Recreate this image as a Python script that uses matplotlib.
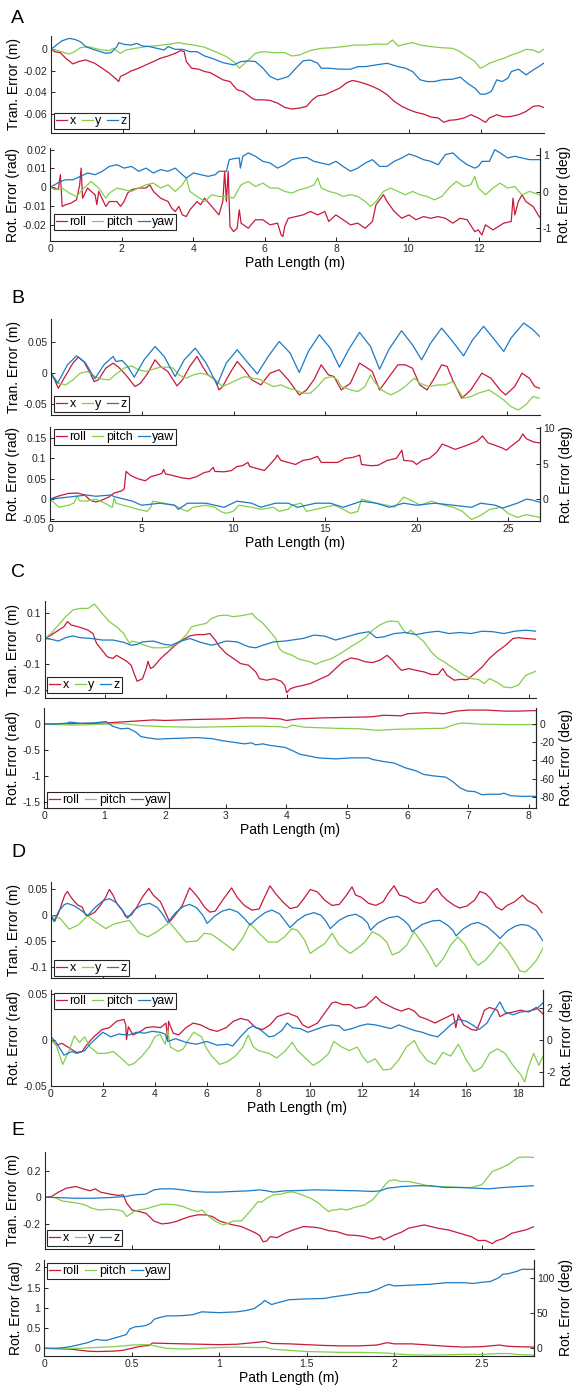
import numpy as np
import matplotlib
matplotlib.use('Agg')
import matplotlib.pyplot as plt
from matplotlib.ticker import FuncFormatter

plt.rcParams['font.family'] = ['Liberation Sans', 'DejaVu Sans']
plt.rcParams['axes.unicode_minus'] = False

RED = '#C8193C'; GREEN = '#84CF4A'; BLUE = '#1B7AC6'; AXC = '#262626'

# ---------------- Data (path length m, value) ----------------
A_TRAN_X = [(0,0),(0.10,-0.0022),(0.26,-0.0031),(0.41,-0.0083),(0.61,-0.0136),(0.77,-0.0114),(0.97,-0.0099),(1.22,-0.0130),(1.43,-0.0176),(1.63,-0.0222),(1.84,-0.0284),(1.89,-0.0300),(1.94,-0.0253),(2.09,-0.0229),(2.24,-0.0201),(2.45,-0.0176),(2.65,-0.0145),(2.86,-0.0114),(3.06,-0.0083),(3.27,-0.0062),(3.47,-0.0037),(3.62,-0.0012),(3.72,-0.0022),(3.78,-0.0114),(3.93,-0.0176),(4.13,-0.0185),(4.29,-0.0207),(4.44,-0.0216),(4.64,-0.0253),(4.80,-0.0284),(5.00,-0.0300),(5.20,-0.0377),(5.36,-0.0392),(5.61,-0.0454),(5.71,-0.0470),(5.92,-0.0470),(6.12,-0.0476),(6.33,-0.0501),(6.53,-0.0541),(6.73,-0.0556),(6.94,-0.0547),(7.14,-0.0531),(7.30,-0.0470),(7.45,-0.0433),(7.65,-0.0423),(7.86,-0.0392),(8.06,-0.0362),(8.27,-0.0309),(8.42,-0.0290),(8.57,-0.0300),(8.78,-0.0321),(8.98,-0.0346),(9.18,-0.0377),(9.39,-0.0423),(9.59,-0.0485),(9.80,-0.0531),(10.00,-0.0562),(10.20,-0.0587),(10.41,-0.0603),(10.61,-0.0630),(10.82,-0.0640),(10.97,-0.0680),(11.12,-0.0661),(11.33,-0.0655),(11.53,-0.0640),(11.73,-0.0609),(11.94,-0.0640),(12.04,-0.0661),(12.14,-0.0680),(12.24,-0.0640),(12.45,-0.0609),(12.65,-0.0630),(12.86,-0.0624),(13.06,-0.0609),(13.27,-0.0578),(13.47,-0.0531),(13.62,-0.0525),(13.76,-0.0541)]
A_TRAN_Y = [(0,0),(0.20,-0.0012),(0.36,-0.0031),(0.51,-0.0043),(0.66,-0.0022),(0.82,0.0015),(1.02,0.0025),(1.22,0.0009),(1.43,-0.0006),(1.63,-0.0012),(1.73,0.0009),(1.94,-0.0037),(2.09,-0.0006),(2.35,0.0009),(2.65,0.0025),(2.96,0.0034),(3.27,0.0046),(3.57,0.0062),(3.78,0.0049),(3.98,0.0040),(4.29,0.0019),(4.59,-0.0022),(4.90,-0.0068),(5.10,-0.0114),(5.26,-0.0176),(5.36,-0.0145),(5.51,-0.0099),(5.71,-0.0037),(5.92,-0.0022),(6.22,-0.0031),(6.53,-0.0031),(6.73,-0.0062),(6.94,-0.0053),(7.24,-0.0012),(7.55,0.0009),(7.86,0.0015),(8.16,0.0025),(8.47,0.0040),(8.78,0.0040),(9.08,0.0049),(9.39,0.0046),(9.54,0.0087),(9.69,0.0031),(9.90,0.0049),(10.10,0.0062),(10.31,0.0040),(10.61,0.0025),(10.92,0.0015),(11.22,0.0009),(11.43,-0.0022),(11.63,-0.0068),(11.84,-0.0114),(11.99,-0.0176),(12.10,-0.0161),(12.24,-0.0130),(12.45,-0.0105),(12.65,-0.0083),(12.86,-0.0053),(13.06,-0.0031),(13.27,0.0000),(13.47,-0.0006),(13.62,-0.0031),(13.76,0.0000)]
A_TRAN_Z = [(0,0),(0.15,0.0040),(0.31,0.0080),(0.51,0.0102),(0.66,0.0093),(0.82,0.0071),(0.97,0.0025),(1.17,0),(1.38,-0.0022),(1.53,-0.0037),(1.68,-0.0031),(1.84,0.0025),(1.89,0.0062),(2.04,0.0046),(2.24,0.0040),(2.40,0.0056),(2.55,0.0031),(2.76,0.0025),(2.96,0.0009),(3.16,-0.0006),(3.27,0.0025),(3.47,0),(3.67,0),(3.88,-0.0022),(4.08,-0.0022),(4.29,-0.0062),(4.49,-0.0083),(4.80,-0.0124),(5.10,-0.0145),(5.31,-0.0114),(5.51,-0.0108),(5.71,-0.0114),(5.92,-0.0176),(6.12,-0.0253),(6.33,-0.0284),(6.48,-0.0269),(6.63,-0.0253),(6.84,-0.0176),(7.04,-0.0108),(7.24,-0.0099),(7.45,-0.0130),(7.55,-0.0176),(7.76,-0.0176),(8.06,-0.0185),(8.37,-0.0185),(8.57,-0.0161),(8.78,-0.0161),(9.08,-0.0145),(9.39,-0.0130),(9.69,-0.0161),(9.90,-0.0176),(10.10,-0.0207),(10.31,-0.0284),(10.51,-0.0300),(10.71,-0.0300),(10.92,-0.0284),(11.22,-0.0278),(11.43,-0.0259),(11.63,-0.0315),(11.84,-0.0362),(11.99,-0.0417),(12.14,-0.0417),(12.30,-0.0392),(12.45,-0.0284),(12.60,-0.0300),(12.76,-0.0269),(12.86,-0.0207),(13.06,-0.0185),(13.27,-0.0238),(13.47,-0.0192),(13.62,-0.0161),(13.76,-0.0130)]

A_ROT_ROLL = [(0,0),(0.13,-0.0005),(0.23,-0.0014),(0.29,0.0066),(0.34,-0.0103),(0.44,-0.0094),(0.59,-0.0085),(0.74,-0.0068),(0.83,0.0012),(0.87,0.0101),(0.91,-0.0059),(1.05,-0.0005),(1.15,-0.0023),(1.26,-0.0041),(1.31,-0.0094),(1.36,-0.0023),(1.56,-0.0103),(1.66,-0.0077),(1.87,-0.0077),(1.97,-0.0103),(2.07,-0.0077),(2.17,-0.0032),(2.28,-0.0014),(2.48,-0.0005),(2.68,-0.0005),(2.79,0.0012),(2.89,-0.0023),(3.09,-0.0059),(3.30,-0.0077),(3.40,-0.0112),(3.50,-0.0130),(3.60,-0.0103),(3.70,-0.0148),(3.81,-0.0157),(3.91,-0.0121),(4.11,-0.0077),(4.21,-0.0094),(4.32,-0.0059),(4.52,-0.0103),(4.72,-0.0148),(4.83,-0.0077),(4.88,0.0084),(4.93,-0.0077),(4.98,0.0084),(5.03,-0.0210),(5.13,-0.0237),(5.23,-0.0219),(5.29,-0.0121),(5.34,-0.0192),(5.54,-0.0219),(5.74,-0.0174),(5.95,-0.0174),(6.15,-0.0201),(6.36,-0.0192),(6.46,-0.0255),(6.51,-0.0263),(6.56,-0.0210),(6.66,-0.0166),(6.87,-0.0157),(7.07,-0.0148),(7.28,-0.0130),(7.48,-0.0148),(7.68,-0.0130),(7.79,-0.0183),(7.99,-0.0148),(8.19,-0.0174),(8.40,-0.0201),(8.60,-0.0192),(8.81,-0.0219),(9.01,-0.0183),(9.11,-0.0094),(9.32,-0.0041),(9.42,-0.0077),(9.62,-0.0130),(9.83,-0.0166),(10.03,-0.0148),(10.23,-0.0174),(10.44,-0.0157),(10.64,-0.0166),(10.85,-0.0157),(11.05,-0.0166),(11.26,-0.0192),(11.46,-0.0166),(11.66,-0.0174),(11.87,-0.0237),(11.97,-0.0228),(12.07,-0.0255),(12.17,-0.0201),(12.38,-0.0228),(12.68,-0.0192),(12.89,-0.0183),(12.94,-0.0059),(12.99,-0.0148),(13.09,-0.0077),(13.19,-0.0041),(13.30,-0.0077),(13.50,-0.0103),(13.68,-0.0160)]
A_ROT_PITCH = [(0,0),(0.13,-0.0014),(0.34,-0.0005),(0.54,-0.0032),(0.74,-0.0050),(0.95,-0.0005),(1.15,0.0030),(1.36,-0.0005),(1.56,-0.0059),(1.66,-0.0032),(1.87,-0.0005),(2.07,-0.0014),(2.28,-0.0023),(2.48,-0.0005),(2.68,0.0012),(2.89,0.0021),(3.09,-0.0005),(3.30,0.0012),(3.50,-0.0023),(3.70,0.0012),(3.81,0.0048),(3.91,-0.0023),(4.11,-0.0050),(4.32,-0.0077),(4.52,-0.0041),(4.72,-0.0050),(4.93,-0.0050),(5.13,-0.0059),(5.34,0.0012),(5.54,0.0030),(5.74,0.0003),(5.95,0.0021),(6.15,-0.0005),(6.36,-0.0005),(6.56,-0.0023),(6.76,-0.0032),(6.97,-0.0014),(7.17,-0.0005),(7.38,0.0012),(7.48,0.0048),(7.58,-0.0005),(7.79,-0.0023),(7.99,-0.0032),(8.19,-0.0050),(8.40,-0.0041),(8.60,-0.0050),(8.81,-0.0077),(8.96,-0.0103),(9.11,-0.0077),(9.32,-0.0023),(9.52,-0.0005),(9.72,-0.0023),(9.93,-0.0041),(10.13,-0.0023),(10.34,-0.0041),(10.54,-0.0050),(10.74,-0.0068),(10.95,-0.0050),(11.15,-0.0005),(11.36,0.0030),(11.56,0.0003),(11.76,0.0012),(11.87,0.0057),(11.97,-0.0005),(12.17,-0.0041),(12.38,-0.0005),(12.58,0.0021),(12.79,-0.0005),(12.99,0.0003),(13.19,-0.0041),(13.40,-0.0023),(13.68,-0.0041)]
A_ROT_YAW = [(0,0),(0.13,0.0012),(0.29,0.0030),(0.44,0.0039),(0.64,0.0039),(0.85,0.0057),(1.05,0.0075),(1.26,0.0066),(1.46,0.0084),(1.66,0.0110),(1.87,0.0119),(2.07,0.0101),(2.28,0.0110),(2.48,0.0084),(2.68,0.0101),(2.89,0.0075),(3.09,0.0093),(3.30,0.0084),(3.50,0.0101),(3.70,0.0066),(3.81,0.0048),(4.01,0.0075),(4.21,0.0066),(4.42,0.0057),(4.62,0.0066),(4.72,0.0084),(4.93,0.0084),(5.01,0.0146),(5.13,0.0151),(5.29,0.0155),(5.32,0.0101),(5.39,0.0164),(5.54,0.0182),(5.74,0.0164),(5.95,0.0137),(6.15,0.0128),(6.36,0.0101),(6.56,0.0119),(6.76,0.0146),(6.97,0.0155),(7.17,0.0158),(7.38,0.0137),(7.58,0.0128),(7.79,0.0119),(7.99,0.0137),(8.19,0.0110),(8.40,0.0084),(8.60,0.0101),(8.81,0.0128),(9.01,0.0146),(9.21,0.0110),(9.42,0.0110),(9.62,0.0137),(9.83,0.0155),(10.03,0.0176),(10.23,0.0164),(10.44,0.0146),(10.64,0.0137),(10.85,0.0119),(11.05,0.0173),(11.26,0.0182),(11.46,0.0146),(11.66,0.0119),(11.87,0.0101),(11.97,0.0110),(12.07,0.0137),(12.28,0.0137),(12.43,0.0199),(12.58,0.0182),(12.79,0.0155),(12.99,0.0164),(13.19,0.0155),(13.40,0.0146),(13.68,0.0146)]

B_TRAN_X = [(0,0),(0.2,-0.0107),(0.4,-0.0241),(1.2,0.0161),(1.5,0.0257),(1.8,0.0187),(2.1,0.0027),(2.36,-0.0134),(2.6,-0.0107),(3.0,0.0080),(3.4,0.0161),(3.7,0.0096),(4.1,-0.0027),(4.6,-0.0214),(4.9,-0.0161),(5.3,0),(5.7,0.0214),(6.0,0.0107),(6.4,0.0027),(6.9,-0.0203),(7.2,-0.0107),(7.6,0.0107),(8.0,0.0268),(8.3,0.0107),(8.6,-0.0027),(9.0,-0.0107),(9.2,-0.0268),(9.4,-0.0214),(9.8,0),(10.2,0.0187),(10.6,0.0054),(11.0,-0.0107),(11.5,-0.0187),(12.0,0),(12.5,0.0054),(13.0,-0.0107),(13.6,-0.0348),(14.0,-0.0268),(14.4,-0.0107),(14.8,0.0134),(15.2,-0.0027),(15.5,-0.0054),(15.9,-0.0268),(16.4,-0.0161),(16.9,0.0161),(17.2,0.0107),(17.6,0.0027),(18.0,-0.0268),(18.4,-0.0107),(19.0,0.0134),(19.4,0.0134),(19.8,0.0080),(20.2,-0.0187),(20.6,-0.0268),(21.0,-0.0080),(21.4,0.0134),(21.7,0.0107),(22.0,-0.0107),(22.5,-0.0401),(23.0,-0.0268),(23.6,0),(24.1,-0.0080),(24.6,-0.0268),(24.9,-0.0348),(25.4,-0.0214),(25.8,0),(26.2,-0.0080),(26.5,-0.0214),(26.76,-0.0241)]
B_TRAN_Y = [(0,0),(0.4,-0.0161),(0.8,-0.0187),(1.2,-0.0107),(1.6,0),(2.0,0.0027),(2.4,-0.0054),(2.8,-0.0096),(3.2,-0.0107),(3.5,-0.0027),(4.0,0.0080),(4.4,0.0118),(4.8,0.0054),(5.2,0.0027),(5.6,0.0064),(6.0,0.0096),(6.4,0.0096),(6.7,0.0080),(7.0,-0.0027),(7.4,-0.0080),(7.8,-0.0027),(8.2,0),(8.6,-0.0027),(9.0,-0.0107),(9.4,-0.0214),(9.8,-0.0161),(10.2,-0.0107),(10.6,-0.0054),(11.0,-0.0080),(11.4,-0.0096),(11.8,-0.0161),(12.2,-0.0214),(12.6,-0.0187),(13.0,-0.0241),(13.4,-0.0268),(13.8,-0.0321),(14.2,-0.0321),(14.6,-0.0214),(15.0,-0.0080),(15.4,-0.0054),(15.7,-0.0107),(15.9,-0.0214),(16.4,-0.0268),(16.8,-0.0294),(17.2,-0.0214),(17.5,-0.0027),(17.7,-0.0134),(18.1,-0.0268),(18.6,-0.0348),(19.0,-0.0294),(19.4,-0.0214),(19.9,-0.0080),(20.2,-0.0161),(20.7,-0.0214),(21.2,-0.0187),(21.6,-0.0187),(22.0,-0.0134),(22.3,-0.0268),(22.6,-0.0401),(23.0,-0.0375),(23.4,-0.0321),(24.0,-0.0268),(24.4,-0.0348),(24.8,-0.0428),(25.2,-0.0535),(25.6,-0.0589),(26.0,-0.0508),(26.4,-0.0375),(26.76,-0.0401)]
B_TRAN_Z = [(0,0),(0.36,-0.016),(0.9,0.0134),(1.4,0.0278),(1.9,0.016),(2.4,-0.0091),(2.9,0.0134),(3.4,0.0268),(3.56,0.0187),(3.9,0.0203),(4.2,0.0107),(4.56,-0.0064),(5.1,0.0214),(5.7,0.0428),(6.2,0.0268),(6.8,-0.0054),(7.3,0.0214),(7.9,0.0401),(8.5,0.0161),(9.1,-0.0187),(9.6,0.0161),(10.2,0.0375),(10.8,0.0161),(11.3,-0.0011),(11.9,0.0268),(12.5,0.0508),(13.1,0.0321),(13.6,0.0011),(14.1,0.0348),(14.7,0.0615),(15.3,0.0401),(15.8,0.0096),(16.3,0.0375),(16.9,0.0653),(17.5,0.0428),(18.0,0.0064),(18.5,0.0375),(19.2,0.0679),(19.8,0.0455),(20.3,0.0214),(20.8,0.0482),(21.4,0.0722),(22.0,0.0508),(22.6,0.0278),(23.1,0.0535),(23.7,0.0749),(24.3,0.0535),(24.8,0.0348),(25.2,0.0562),(25.9,0.0803),(26.4,0.0696),(26.76,0.0589)]

B_ROT_ROLL = [(0,0),(0.5,0.008),(1.0,0.014),(1.5,0.015),(1.9,0.01),(2.2,-0.003),(2.5,-0.007),(2.8,-0.003),(3.2,0.005),(3.5,0.015),(3.9,0.02),(4.05,0.025),(4.15,0.068),(4.4,0.058),(4.8,0.05),(5.2,0.045),(5.5,0.055),(5.9,0.06),(6.1,0.063),(6.2,0.073),(6.3,0.062),(6.7,0.058),(7.2,0.052),(7.6,0.05),(8.0,0.055),(8.4,0.065),(8.7,0.068),(8.9,0.078),(9.0,0.068),(9.5,0.067),(9.9,0.07),(10.2,0.08),(10.5,0.082),(10.8,0.09),(10.9,0.08),(11.3,0.075),(11.7,0.07),(12.0,0.085),(12.3,0.1),(12.4,0.108),(12.6,0.095),(13.0,0.09),(13.4,0.085),(13.8,0.095),(14.2,0.098),(14.6,0.105),(14.8,0.09),(15.3,0.09),(15.7,0.09),(16.1,0.1),(16.5,0.102),(16.9,0.108),(17.0,0.085),(17.5,0.082),(17.9,0.083),(18.4,0.095),(18.9,0.1),(19.2,0.12),(19.3,0.095),(19.8,0.093),(20.0,0.085),(20.3,0.095),(20.7,0.1),(21.1,0.115),(21.4,0.135),(21.8,0.128),(22.1,0.122),(22.5,0.128),(22.9,0.135),(23.3,0.142),(23.6,0.155),(23.9,0.138),(24.3,0.132),(24.7,0.125),(24.9,0.12),(25.3,0.135),(25.6,0.145),(25.8,0.16),(26.0,0.148),(26.4,0.14),(26.75,0.138)]
B_ROT_PITCH = [(0,0),(0.5,-0.02),(1.0,-0.015),(1.3,-0.01),(1.5,0.008),(1.6,-0.004),(2.0,-0.005),(2.5,0.0),(3.0,-0.01),(3.4,-0.02),(3.5,0.003),(3.6,-0.01),(4.0,-0.015),(4.8,-0.025),(5.3,-0.03),(5.5,-0.02),(5.6,-0.005),(6.2,-0.01),(6.8,-0.015),(7.2,-0.025),(7.5,-0.03),(7.8,-0.02),(8.5,-0.015),(9.0,-0.02),(9.3,-0.03),(9.6,-0.035),(10.0,-0.03),(10.3,-0.015),(11.0,-0.02),(11.5,-0.025),(12.2,-0.02),(12.5,-0.03),(13.0,-0.025),(13.2,-0.015),(13.7,-0.01),(14.0,-0.03),(14.5,-0.025),(15.0,-0.02),(15.5,-0.015),(16.0,-0.025),(16.4,-0.035),(16.8,-0.03),(17.0,0.0),(17.8,-0.01),(18.4,-0.015),(18.8,-0.02),(19.3,0.005),(19.8,-0.005),(20.2,-0.015),(20.8,-0.005),(21.5,-0.015),(22.0,-0.02),(22.5,-0.03),(23.0,-0.05),(23.5,-0.04),(24.0,-0.025),(24.6,-0.02),(25.0,-0.035),(25.5,-0.045),(26.0,-0.038),(26.75,-0.045)]
B_ROT_YAW = [(0,0),(1.0,0.005),(2.0,0.01),(2.5,0.007),(3.3,0.01),(3.6,0.005),(4.5,-0.005),(5.0,-0.015),(6.0,-0.01),(6.8,-0.015),(7.0,-0.025),(7.5,-0.01),(8.5,-0.01),(9.5,-0.02),(10.2,-0.005),(11.0,-0.01),(11.5,-0.02),(12.3,-0.01),(13.0,-0.01),(13.5,-0.02),(14.5,-0.01),(15.3,-0.01),(16.0,-0.02),(17.0,-0.005),(17.8,-0.01),(18.5,-0.02),(19.3,-0.01),(20.0,-0.015),(21.0,-0.01),(22.0,-0.015),(23.0,-0.02),(23.5,-0.01),(24.3,-0.015),(24.7,-0.022),(25.5,-0.01),(26.0,0.0),(26.3,-0.002),(26.75,-0.008)]

C_TRAN_X = [(0,0),(0.11,0.013),(0.23,0.032),(0.32,0.045),(0.38,0.065),(0.44,0.052),(0.56,0.045),(0.72,0.032),(0.80,0.019),(0.86,-0.019),(0.95,-0.045),(1.04,-0.071),(1.13,-0.077),(1.19,-0.065),(1.28,-0.077),(1.37,-0.090),(1.43,-0.103),(1.48,-0.135),(1.53,-0.165),(1.62,-0.155),(1.68,-0.116),(1.71,-0.088),(1.75,-0.116),(1.80,-0.110),(1.92,-0.077),(2.04,-0.052),(2.16,-0.026),(2.28,-0.006),(2.40,0.010),(2.52,0.015),(2.64,0.015),(2.73,0.019),(2.82,-0.006),(2.88,-0.028),(3.00,-0.058),(3.12,-0.077),(3.24,-0.097),(3.37,-0.103),(3.49,-0.129),(3.55,-0.155),(3.67,-0.161),(3.79,-0.155),(3.91,-0.165),(3.97,-0.181),(4.00,-0.209),(4.06,-0.194),(4.15,-0.187),(4.27,-0.181),(4.39,-0.174),(4.51,-0.161),(4.69,-0.142),(4.81,-0.116),(4.93,-0.090),(5.06,-0.075),(5.18,-0.080),(5.30,-0.090),(5.42,-0.093),(5.54,-0.084),(5.66,-0.065),(5.75,-0.084),(5.84,-0.110),(5.90,-0.123),(6.02,-0.116),(6.14,-0.123),(6.27,-0.129),(6.39,-0.139),(6.50,-0.139),(6.58,-0.116),(6.65,-0.142),(6.77,-0.161),(6.86,-0.158),(6.99,-0.158),(7.11,-0.135),(7.23,-0.110),(7.35,-0.077),(7.47,-0.052),(7.62,-0.026),(7.74,0),(7.83,0.003),(7.95,0),(8.12,-0.003)]
C_TRAN_Y = [(0,0),(0.11,0.019),(0.23,0.052),(0.35,0.084),(0.47,0.110),(0.59,0.116),(0.72,0.116),(0.80,0.129),(0.83,0.132),(0.95,0.097),(1.07,0.065),(1.19,0.045),(1.31,0.019),(1.37,-0.006),(1.41,-0.019),(1.44,-0.010),(1.53,-0.015),(1.65,-0.026),(1.80,-0.036),(1.95,-0.036),(2.10,-0.032),(2.22,-0.013),(2.34,0.013),(2.43,0.045),(2.55,0.052),(2.67,0.058),(2.76,0.077),(2.88,0.088),(3.00,0.090),(3.12,0.084),(3.25,0.088),(3.37,0.093),(3.43,0.097),(3.49,0.080),(3.61,0.058),(3.73,0.026),(3.82,0),(3.88,-0.039),(3.94,-0.052),(4.09,-0.065),(4.21,-0.080),(4.39,-0.090),(4.48,-0.100),(4.57,-0.090),(4.75,-0.077),(4.93,-0.052),(5.06,-0.032),(5.18,-0.015),(5.30,0.003),(5.42,0.032),(5.54,0.052),(5.66,0.065),(5.75,0.067),(5.84,0.065),(5.93,0.032),(5.99,0.019),(6.05,0.032),(6.14,0.013),(6.27,-0.013),(6.39,-0.052),(6.50,-0.077),(6.59,-0.088),(6.68,-0.103),(6.81,-0.123),(6.93,-0.142),(7.05,-0.155),(7.17,-0.158),(7.26,-0.174),(7.35,-0.155),(7.47,-0.168),(7.59,-0.187),(7.71,-0.190),(7.83,-0.180),(7.95,-0.142),(8.12,-0.126)]
C_TRAN_Z = [(0,0),(0.11,-0.003),(0.23,-0.010),(0.35,0.003),(0.47,0.010),(0.59,0.003),(0.77,0),(0.95,-0.006),(1.13,-0.006),(1.31,-0.015),(1.43,-0.026),(1.53,-0.023),(1.62,-0.013),(1.80,-0.010),(1.98,-0.023),(2.10,-0.026),(2.22,-0.013),(2.40,0),(2.58,-0.015),(2.76,-0.026),(2.88,-0.019),(3.00,-0.010),(3.18,-0.013),(3.37,-0.032),(3.49,-0.036),(3.61,-0.026),(3.79,-0.013),(3.97,-0.010),(4.09,-0.006),(4.27,0),(4.45,0.013),(4.63,0.009),(4.81,-0.006),(4.99,0.006),(5.18,0.019),(5.36,0.026),(5.48,0.003),(5.60,0.006),(5.78,0.019),(5.96,0.023),(6.14,0.015),(6.32,0.023),(6.50,0.028),(6.68,0.019),(6.86,0.023),(7.05,0.019),(7.23,0.028),(7.41,0.026),(7.59,0.019),(7.77,0.028),(7.95,0.032),(8.12,0.028)]

C_ROT_ROLL = [(0,0),(0.5,0.01),(1.0,0.02),(1.4,0.05),(1.8,0.08),(2.0,0.07),(2.5,0.09),(3.0,0.1),(3.3,0.12),(3.6,0.12),(3.9,0.1),(4.0,0.07),(4.2,0.1),(4.6,0.12),(5.0,0.13),(5.4,0.14),(5.6,0.17),(5.9,0.16),(6.0,0.2),(6.3,0.22),(6.6,0.2),(6.8,0.25),(7.0,0.27),(7.3,0.27),(7.6,0.25),(7.8,0.25),(8.12,0.26)]
C_ROT_PITCH = [(0,0),(0.5,-0.02),(1.0,0.0),(1.3,0.01),(1.6,-0.03),(2.0,-0.05),(2.5,-0.06),(3.0,-0.05),(3.5,-0.04),(3.9,-0.05),(4.0,-0.07),(4.1,-0.02),(4.3,-0.06),(4.8,-0.08),(5.2,-0.09),(5.5,-0.12),(5.8,-0.1),(6.2,-0.09),(6.6,-0.08),(6.8,0.0),(6.9,0.02),(7.2,0.0),(7.6,-0.01),(8.12,-0.01)]
C_ROT_YAW = [(0,0),(0.18,0),(0.39,0.02),(0.42,0.04),(0.6,0.015),(0.8,0.02),(1.02,0.05),(1.14,-0.045),(1.27,-0.09),(1.39,-0.08),(1.51,-0.15),(1.6,-0.24),(1.69,-0.26),(1.87,-0.29),(2.05,-0.28),(2.29,-0.27),(2.53,-0.26),(2.77,-0.28),(2.95,-0.32),(3.13,-0.35),(3.31,-0.38),(3.43,-0.36),(3.49,-0.40),(3.61,-0.38),(3.73,-0.41),(3.98,-0.45),(4.1,-0.51),(4.22,-0.58),(4.4,-0.62),(4.52,-0.65),(4.82,-0.67),(5.06,-0.65),(5.36,-0.65),(5.42,-0.68),(5.6,-0.72),(5.78,-0.75),(5.96,-0.84),(6.14,-0.90),(6.27,-0.97),(6.45,-1.0),(6.63,-1.02),(6.75,-1.11),(6.87,-1.23),(6.99,-1.29),(7.11,-1.30),(7.23,-1.36),(7.35,-1.35),(7.53,-1.35),(7.59,-1.33),(7.71,-1.38),(7.89,-1.39),(8.12,-1.39)]

D_TRAN_X = [(0,0),(0.14,-0.012),(0.28,0.003),(0.42,0.023),(0.53,0.039),(0.63,0.046),(0.77,0.035),(0.91,0.026),(1.05,0.019),(1.2,0.016),(1.34,0),(1.48,0),(1.69,0.006),(1.9,0.019),(2.11,0.035),(2.25,0.050),(2.39,0.039),(2.53,0.023),(2.74,0.010),(2.88,-0.003),(3.09,0),(3.31,0.016),(3.52,0.035),(3.77,0.052),(3.94,0.039),(4.22,0.026),(4.43,0.003),(4.57,-0.013),(4.78,0),(5.06,0.019),(5.34,0.053),(5.49,0.045),(5.7,0.032),(5.91,0.016),(6.12,0.006),(6.33,0.008),(6.61,0.029),(6.96,0.053),(7.17,0.035),(7.45,0.019),(7.74,0.010),(8.02,0.012),(8.23,0.035),(8.44,0.057),(8.65,0.042),(8.93,0.026),(9.21,0.013),(9.49,0.016),(9.7,0.029),(9.99,0.050),(10.27,0.045),(10.55,0.029),(10.83,0.019),(11.11,0.021),(11.39,0.039),(11.6,0.055),(11.74,0.039),(11.95,0.035),(12.24,0.023),(12.52,0.019),(12.8,0.026),(12.99,0.042),(13.22,0.057),(13.43,0.039),(13.71,0.035),(13.99,0.026),(14.21,0.023),(14.42,0.026),(14.7,0.045),(14.88,0.052),(15.05,0.039),(15.26,0.029),(15.54,0.019),(15.75,0.014),(16.03,0.018),(16.32,0.029),(16.53,0.046),(16.74,0.042),(16.95,0.032),(17.16,0.016),(17.37,0.010),(17.58,0.019),(17.86,0.026),(18.17,0.039),(18.35,0.029),(18.57,0.023),(18.71,0.019),(18.92,0.005)]
D_TRAN_Y = [(0,0),(0.35,-0.006),(0.7,-0.027),(1.05,-0.019),(1.41,-0.001),(1.76,-0.014),(2.11,-0.026),(2.39,-0.018),(2.67,-0.014),(3.02,-0.010),(3.38,-0.034),(3.73,-0.042),(4.08,-0.032),(4.57,-0.014),(4.92,-0.035),(5.2,-0.052),(5.63,-0.050),(5.91,-0.035),(6.19,-0.037),(6.61,-0.052),(7.03,-0.068),(7.38,-0.045),(7.67,-0.016),(8.02,-0.035),(8.37,-0.052),(8.72,-0.052),(9.0,-0.042),(9.28,-0.026),(9.49,-0.029),(9.77,-0.048),(9.99,-0.074),(10.27,-0.064),(10.55,-0.055),(10.83,-0.035),(11.11,-0.058),(11.53,-0.074),(11.81,-0.064),(12.1,-0.052),(12.38,-0.032),(12.66,-0.039),(12.94,-0.052),(13.15,-0.077),(13.43,-0.071),(13.71,-0.058),(13.99,-0.032),(14.28,-0.052),(14.56,-0.074),(14.84,-0.100),(15.12,-0.084),(15.4,-0.058),(15.68,-0.042),(15.96,-0.058),(16.24,-0.084),(16.46,-0.097),(16.74,-0.087),(17.02,-0.071),(17.3,-0.052),(17.58,-0.068),(17.86,-0.090),(18.07,-0.108),(18.28,-0.110),(18.49,-0.100),(18.71,-0.087),(18.96,-0.064)]
D_TRAN_Z = [(0,0),(0.11,-0.012),(0.3,0.008),(0.5,0.02),(0.63,0.023),(0.9,0.018),(1.2,0.008),(1.41,-0.001),(1.7,0.015),(2.0,0.028),(2.25,0.032),(2.5,0.025),(2.75,0.01),(2.95,-0.006),(3.2,0.01),(3.5,0.02),(3.8,0.023),(4.1,0.015),(4.3,0.002),(4.5,-0.014),(4.8,0.005),(5.1,0.017),(5.34,0.021),(5.6,0.015),(5.85,0.0),(6.02,-0.016),(6.3,-0.002),(6.6,0.008),(6.89,0.012),(7.2,0.006),(7.45,-0.006),(7.67,-0.019),(7.95,-0.006),(8.25,0.005),(8.51,0.010),(8.8,0.003),(9.0,-0.01),(9.21,-0.024),(9.5,-0.01),(9.8,0.0),(10.13,0.005),(10.4,0.0),(10.6,-0.012),(10.76,-0.026),(11.1,-0.01),(11.4,-0.002),(11.74,0.002),(12.0,-0.005),(12.2,-0.015),(12.31,-0.029),(12.6,-0.015),(13.0,-0.005),(13.36,-0.002),(13.6,-0.01),(13.8,-0.02),(13.92,-0.032),(14.3,-0.018),(14.7,-0.011),(14.98,-0.010),(15.3,-0.02),(15.5,-0.03),(15.61,-0.040),(15.9,-0.026),(16.2,-0.017),(16.46,-0.014),(16.8,-0.022),(17.1,-0.035),(17.3,-0.045),(17.6,-0.03),(17.9,-0.021),(18.14,-0.018),(18.4,-0.02),(18.7,-0.03),(18.96,-0.050)]

D_ROT_ROLL = [(0,0),(0.21,-0.006),(0.42,-0.004),(0.7,-0.009),(0.98,-0.014),(1.2,-0.013),(1.34,-0.007),(1.55,0),(1.69,0.004),(1.97,0.011),(2.25,0.013),(2.53,0.020),(2.81,0.022),(2.88,0.016),(2.91,0.0),(2.98,0.014),(3.16,0.005),(3.45,0.009),(3.66,0.013),(3.94,0.014),(4.22,0.013),(4.43,0.018),(4.5,0.0),(4.53,0.020),(4.71,0.007),(4.92,0.005),(5.2,0.013),(5.48,0.018),(5.77,0.016),(6.12,0.011),(6.4,0.009),(6.75,0.013),(7.03,0.020),(7.31,0.023),(7.6,0.021),(7.88,0.013),(8.16,0.011),(8.44,0.016),(8.72,0.025),(9.14,0.029),(9.28,0.027),(9.49,0.025),(9.7,0.016),(9.92,0.013),(10.27,0.018),(10.55,0.029),(10.83,0.040),(10.97,0.041),(11.25,0.038),(11.53,0.038),(11.74,0.034),(12.1,0.036),(12.38,0.043),(12.52,0.047),(12.73,0.041),(12.94,0.038),(13.22,0.034),(13.5,0.031),(13.78,0.034),(14.0,0.031),(14.2,0.025),(14.5,0.022),(14.8,0.018),(15.0,0.021),(15.3,0.025),(15.5,0.028),(15.6,0.013),(15.7,0.027),(15.9,0.016),(16.2,0.011),(16.4,0.010),(16.55,0.020),(16.7,0.032),(16.9,0.035),(17.2,0.032),(17.3,0.025),(17.5,0.028),(17.8,0.030),(18.1,0.032),(18.4,0.030),(18.7,0.035),(18.96,0.028)]
D_ROT_PITCH = [(0,0),(0.2,-0.006),(0.45,-0.027),(0.7,-0.012),(0.9,0.004),(1.1,-0.003),(1.3,0.003),(1.5,-0.008),(1.8,-0.015),(2.1,-0.015),(2.4,-0.013),(2.7,-0.02),(3.0,-0.028),(3.2,-0.026),(3.5,-0.018),(3.8,-0.008),(4.0,0.003),(4.2,0.006),(4.4,-0.005),(4.5,0.01),(4.6,-0.008),(4.9,-0.013),(5.1,-0.010),(5.3,0.0),(5.5,0.008),(5.8,0.003),(6.0,-0.01),(6.2,-0.018),(6.5,-0.027),(6.8,-0.024),(7.1,-0.018),(7.4,-0.008),(7.6,0.005),(7.8,-0.008),(8.0,-0.012),(8.4,-0.015),(8.7,-0.02),(9.0,-0.013),(9.3,-0.003),(9.5,-0.012),(9.8,-0.02),(10.1,-0.028),(10.4,-0.023),(10.7,-0.015),(10.9,-0.002),(11.2,-0.008),(11.5,-0.012),(11.8,-0.008),(12.0,-0.018),(12.2,-0.025),(12.5,-0.021),(12.8,-0.033),(13.1,-0.032),(13.4,-0.022),(13.7,-0.008),(14.0,-0.001),(14.2,-0.012),(14.5,-0.023),(14.8,-0.027),(15.1,-0.014),(15.4,-0.018),(15.7,-0.005),(16.0,-0.022),(16.3,-0.035),(16.6,-0.03),(16.9,-0.015),(17.2,-0.01),(17.5,-0.015),(17.8,-0.028),(18.1,-0.038),(18.25,-0.046),(18.4,-0.03),(18.6,-0.015),(18.8,-0.028),(18.96,-0.018)]
D_ROT_YAW = [(0,0.003),(0.2,-0.003),(0.5,-0.017),(0.8,-0.013),(1.0,-0.015),(1.3,-0.012),(1.5,-0.005),(1.8,0.003),(2.0,0.008),(2.3,0.003),(2.6,0.006),(3.0,0.005),(3.3,0.008),(3.6,0.007),(3.9,0.009),(4.2,0.008),(4.4,0.006),(4.5,-0.002),(4.8,0.001),(5.2,-0.003),(5.6,-0.005),(6.0,-0.002),(6.4,-0.006),(6.8,-0.005),(7.0,-0.007),(7.3,0.003),(7.6,0.012),(7.8,0.015),(8.1,0.010),(8.4,0.003),(8.6,0.004),(8.9,0.010),(9.1,0.018),(9.3,0.013),(9.6,0.012),(9.9,0.008),(10.2,0.011),(10.5,0.014),(10.8,0.016),(11.1,0.015),(11.3,0.010),(11.6,0.012),(11.9,0.015),(12.2,0.017),(12.5,0.016),(12.8,0.014),(13.1,0.012),(13.4,0.016),(13.7,0.013),(14.0,0.010),(14.3,0.008),(14.6,0.005),(14.9,0.003),(15.1,0.008),(15.4,0.016),(15.7,0.022),(16.0,0.020),(16.3,0.015),(16.5,0.011),(16.8,0.018),(17.0,0.028),(17.3,0.041),(17.5,0.030),(17.8,0.027),(18.1,0.030),(18.4,0.031),(18.7,0.033),(18.96,0.040)]

E_TRAN_X = [(0,0),(0.04,0.005),(0.08,0.038),(0.125,0.068),(0.18,0.080),(0.22,0.063),(0.26,0.048),(0.29,0.063),(0.32,0.038),(0.375,0.023),(0.42,0.013),(0.45,0.018),(0.47,-0.045),(0.5,-0.096),(0.54,-0.108),(0.58,-0.121),(0.625,-0.179),(0.67,-0.201),(0.71,-0.196),(0.75,-0.184),(0.79,-0.164),(0.83,-0.146),(0.875,-0.133),(0.92,-0.133),(0.96,-0.146),(1.0,-0.179),(1.04,-0.196),(1.08,-0.209),(1.125,-0.221),(1.17,-0.247),(1.21,-0.272),(1.23,-0.289),(1.25,-0.335),(1.27,-0.330),(1.29,-0.297),(1.33,-0.304),(1.375,-0.272),(1.42,-0.247),(1.48,-0.221),(1.54,-0.226),(1.58,-0.234),(1.625,-0.252),(1.67,-0.259),(1.73,-0.284),(1.79,-0.289),(1.83,-0.297),(1.875,-0.315),(1.92,-0.297),(1.94,-0.322),(1.96,-0.309),(2.0,-0.284),(2.04,-0.264),(2.08,-0.234),(2.125,-0.221),(2.17,-0.209),(2.21,-0.221),(2.25,-0.234),(2.31,-0.247),(2.375,-0.272),(2.44,-0.297),(2.48,-0.327),(2.52,-0.325),(2.56,-0.350),(2.58,-0.330),(2.625,-0.310),(2.67,-0.272),(2.71,-0.259),(2.75,-0.247),(2.8,-0.221)]
E_TRAN_Y = [(0,0),(0.06,-0.003),(0.1,-0.028),(0.15,-0.038),(0.19,-0.045),(0.23,-0.058),(0.27,-0.083),(0.31,-0.096),(0.375,-0.091),(0.42,-0.096),(0.45,-0.108),(0.47,-0.146),(0.49,-0.128),(0.51,-0.108),(0.54,-0.096),(0.58,-0.088),(0.625,-0.070),(0.67,-0.053),(0.71,-0.053),(0.75,-0.058),(0.79,-0.070),(0.83,-0.091),(0.875,-0.108),(0.9,-0.096),(0.94,-0.146),(0.98,-0.184),(1.02,-0.209),(1.05,-0.196),(1.08,-0.179),(1.125,-0.179),(1.16,-0.128),(1.19,-0.083),(1.22,-0.033),(1.24,-0.038),(1.27,-0.008),(1.31,0.018),(1.35,0.023),(1.385,0.035),(1.417,0.040),(1.46,0.023),(1.52,-0.008),(1.56,-0.038),(1.6,-0.083),(1.625,-0.108),(1.646,-0.096),(1.667,-0.096),(1.69,-0.088),(1.73,-0.096),(1.77,-0.078),(1.83,-0.058),(1.875,-0.020),(1.92,0.048),(1.95,0.098),(1.97,0.123),(2.0,0.131),(2.04,0.118),(2.08,0.118),(2.125,0.106),(2.17,0.093),(2.21,0.080),(2.25,0.080),(2.31,0.078),(2.375,0.073),(2.44,0.073),(2.48,0.088),(2.5,0.093),(2.53,0.143),(2.56,0.194),(2.6,0.214),(2.65,0.244),(2.69,0.282),(2.71,0.299),(2.75,0.302),(2.8,0.299)]
E_TRAN_Z = [(0,0),(0.08,-0.003),(0.17,-0.008),(0.27,-0.008),(0.375,-0.003),(0.46,0.005),(0.52,0.018),(0.58,0.023),(0.6,0.038),(0.625,0.055),(0.67,0.063),(0.73,0.063),(0.79,0.055),(0.85,0.043),(0.92,0.038),(1.0,0.038),(1.08,0.043),(1.17,0.048),(1.23,0.055),(1.27,0.048),(1.31,0.038),(1.375,0.048),(1.46,0.050),(1.54,0.055),(1.625,0.053),(1.71,0.050),(1.79,0.048),(1.875,0.043),(1.92,0.048),(1.96,0.068),(2.0,0.073),(2.04,0.080),(2.125,0.086),(2.21,0.086),(2.29,0.073),(2.375,0.073),(2.46,0.068),(2.54,0.063),(2.625,0.073),(2.71,0.080),(2.8,0.086)]

E_ROT_ROLL = [(0,0),(0.15,-0.02),(0.25,-0.07),(0.3,-0.08),(0.4,-0.07),(0.45,-0.05),(0.5,0.0),(0.55,0.05),(0.6,0.07),(0.62,0.13),(0.7,0.12),(0.8,0.11),(0.9,0.1),(1.0,0.09),(1.1,0.1),(1.2,0.14),(1.26,0.17),(1.3,0.12),(1.4,0.11),(1.5,0.09),(1.6,0.07),(1.7,0.06),(1.8,0.06),(1.9,0.08),(1.96,0.14),(2.0,0.11),(2.1,0.11),(2.2,0.08),(2.3,0.05),(2.4,0.03),(2.5,0.04),(2.6,0.08),(2.65,0.05),(2.7,0.04),(2.8,0.03)]
E_ROT_PITCH = [(0,0),(0.1,-0.01),(0.2,0.0),(0.3,0.02),(0.4,0.04),(0.5,0.08),(0.55,0.09),(0.6,0.09),(0.63,0.06),(0.7,0.0),(0.8,-0.02),(0.9,0.0),(1.0,0.02),(1.1,0.03),(1.2,0.02),(1.27,0.02),(1.3,-0.02),(1.4,-0.05),(1.5,-0.08),(1.6,-0.09),(1.7,-0.1),(1.8,-0.1),(1.9,-0.11),(1.97,-0.12),(2.0,-0.14),(2.1,-0.16),(2.2,-0.17),(2.3,-0.16),(2.4,-0.15),(2.5,-0.15),(2.6,-0.13),(2.65,-0.13),(2.7,-0.15),(2.8,-0.17)]
E_ROT_YAW = [(0,0),(0.05,0.0),(0.1,0.01),(0.15,0.04),(0.2,0.09),(0.25,0.14),(0.3,0.22),(0.33,0.2),(0.36,0.2),(0.4,0.25),(0.44,0.3),(0.47,0.34),(0.49,0.48),(0.52,0.53),(0.55,0.54),(0.58,0.56),(0.61,0.62),(0.63,0.72),(0.66,0.76),(0.7,0.8),(0.75,0.8),(0.8,0.81),(0.85,0.83),(0.9,0.9),(0.95,0.89),(1.0,0.88),(1.05,0.89),(1.1,0.9),(1.15,0.93),(1.2,0.98),(1.24,1.1),(1.26,1.18),(1.3,1.08),(1.33,1.12),(1.4,1.2),(1.5,1.22),(1.6,1.23),(1.65,1.27),(1.7,1.3),(1.75,1.33),(1.8,1.37),(1.85,1.38),(1.9,1.45),(1.95,1.55),(1.97,1.58),(2.0,1.54),(2.1,1.56),(2.2,1.58),(2.3,1.62),(2.4,1.62),(2.45,1.6),(2.5,1.63),(2.55,1.65),(2.6,1.75),(2.62,1.83),(2.65,1.84),(2.7,1.9),(2.73,1.95),(2.8,1.95)]

TRAN_LABELS = ['x', 'y', 'z']
ROT_LABELS = ['roll', 'pitch', 'yaw']
PANEL_LETTERS = ['A', 'B', 'C', 'D', 'E']

# ---------------- Figure ----------------
W, H = 572, 1390
fig = plt.figure(figsize=(W / 100, H / 100), dpi=100)

def add_ax(l, r, t, b):
    return fig.add_axes([l / W, 1 - b / H, (r - l) / W, (b - t) / H])

fmt = FuncFormatter(lambda v, p: '%g' % (round(v, 6) if abs(v) > 1e-12 else 0))

def style(ax, right=False):
    for s in ['top']:
        ax.spines[s].set_visible(False)
    ax.spines['right'].set_visible(right)
    for s in ['left', 'bottom', 'right']:
        ax.spines[s].set_color(AXC)
        ax.spines[s].set_linewidth(0.8)
    ax.tick_params(direction='in', length=3, width=0.7, colors=AXC, labelsize=7.5, pad=2.5)
    ax.yaxis.set_major_formatter(fmt)
    ax.xaxis.set_major_formatter(fmt)
    ax.patch.set_alpha(0)

def plot_series(ax, series, labels):
    for data, c, lab in zip(series, [RED, GREEN, BLUE], labels):
        s = [p[0] for p in data]
        v = [p[1] for p in data]
        ax.plot(s, v, color=c, lw=0.9, label=lab, solid_joinstyle='round')

def legend(ax, x, y, loc):
    lg = ax.legend(loc=loc, bbox_to_anchor=(x / W, 1 - y / H), bbox_transform=fig.transFigure,
                   ncol=3, fontsize=9, handlelength=0.9, handletextpad=0.2, columnspacing=0.45,
                   borderpad=0.15, borderaxespad=0, fancybox=False, framealpha=1, frameon=True)
    lg.get_frame().set_edgecolor(AXC)
    lg.get_frame().set_linewidth(0.8)

panels = [
    dict(tran=[A_TRAN_X, A_TRAN_Y, A_TRAN_Z], rot=[A_ROT_ROLL, A_ROT_PITCH, A_ROT_YAW],
         top_box=(51, 544, 36, 133), bot_box=(50, 539.5, 148, 241),
         xlim_t=13.77, xlim_b=13.68, xticks=np.arange(0, 13, 2),
         ylim_t=(-0.0779, 0.0124), yt_t=[-0.06, -0.04, -0.02, 0],
         ylim_b=(-0.0287, 0.0208), yt_b=[-0.02, -0.01, 0, 0.01, 0.02],
         ylim_deg=(-1.35, 1.2), yt_deg=[-1, 0, 1],
         leg_t=(54, 129, 'lower left'), leg_b=(54, 230, 'lower left'), letter_y=22.7),
    dict(tran=[B_TRAN_X, B_TRAN_Y, B_TRAN_Z], rot=[B_ROT_ROLL, B_ROT_PITCH, B_ROT_YAW],
         top_box=(51, 539.5, 319, 415), bot_box=(50, 539.5, 427, 521),
         xlim_t=26.76, xlim_b=26.71, xticks=np.arange(0, 26, 5),
         ylim_t=(-0.0669, 0.0867), yt_t=[-0.05, 0, 0.05],
         ylim_b=(-0.0537, 0.177), yt_b=[-0.05, 0, 0.05, 0.1, 0.15],
         ylim_deg=None, yt_deg=[0, 5, 10],
         leg_t=(54, 412, 'lower left'), leg_b=(54, 429, 'upper left'), letter_y=302.7),
    dict(tran=[C_TRAN_X, C_TRAN_Y, C_TRAN_Z], rot=[C_ROT_ROLL, C_ROT_PITCH, C_ROT_YAW],
         top_box=(44.5, 536, 601, 698), bot_box=(44, 536, 708, 808),
         xlim_t=8.12, xlim_b=8.12, xticks=np.arange(0, 9, 1),
         ylim_t=(-0.2296, 0.1445), yt_t=[-0.2, -0.1, 0, 0.1],
         ylim_b=(-1.615, 0.31), yt_b=[-1.5, -1, -0.5, 0],
         ylim_deg=None, yt_deg=[-80, -60, -40, -20, 0],
         leg_t=(47, 693, 'lower left'), leg_b=(47, 808, 'lower left'), letter_y=576.7),
    dict(tran=[D_TRAN_X, D_TRAN_Y, D_TRAN_Z], rot=[D_ROT_ROLL, D_ROT_PITCH, D_ROT_YAW],
         top_box=(51, 543, 882, 978), bot_box=(51, 543, 990, 1086),
         xlim_t=18.96, xlim_b=18.96, xticks=np.arange(0, 19, 2),
         ylim_t=(-0.1217, 0.0644), yt_t=[-0.1, -0.05, 0, 0.05],
         ylim_b=(-0.0505, 0.054), yt_b=[-0.05, 0, 0.05],
         ylim_deg=None, yt_deg=[-2, 0, 2],
         leg_t=(54, 976, 'lower left'), leg_b=(54, 993, 'upper left'), letter_y=856.7),
    dict(tran=[E_TRAN_X, E_TRAN_Y, E_TRAN_Z], rot=[E_ROT_ROLL, E_ROT_PITCH, E_ROT_YAW],
         top_box=(44.5, 533.6, 1152, 1249), bot_box=(44, 533.6, 1260, 1356),
         xlim_t=2.796, xlim_b=2.796, xticks=[0, 0.5, 1, 1.5, 2, 2.5],
         ylim_t=(-0.39, 0.34), yt_t=[-0.2, 0, 0.2],
         ylim_b=(-0.19, 2.18), yt_b=[0, 0.5, 1, 1.5, 2],
         ylim_deg=None, yt_deg=[0, 50, 100],
         leg_t=(47, 1246, 'lower left'), leg_b=(47, 1263, 'upper left'), letter_y=1135),
]

for letter, P in zip(PANEL_LETTERS, panels):
    # translational error
    axt = add_ax(*P['top_box'])
    style(axt)
    plot_series(axt, P['tran'], TRAN_LABELS)
    axt.set_xlim(0, P['xlim_t'])
    axt.set_ylim(*P['ylim_t'])
    axt.set_xticks(P['xticks'])
    axt.set_yticks(P['yt_t'])
    axt.tick_params(axis='x', labelbottom=False)
    axt.set_ylabel('Tran. Error (m)', fontsize=10, labelpad=2)
    legend(axt, *P['leg_t'])

    # rotational error
    axb = add_ax(*P['bot_box'])
    style(axb, right=True)
    plot_series(axb, P['rot'], ROT_LABELS)
    axb.set_xlim(0, P['xlim_b'])
    axb.set_ylim(*P['ylim_b'])
    axb.set_xticks(P['xticks'])
    axb.set_yticks(P['yt_b'])
    axb.tick_params(axis='y', right=False)
    axb.set_ylabel('Rot. Error (rad)', fontsize=10, labelpad=2)
    axb.set_xlabel('Path Length (m)', fontsize=10, labelpad=1)
    legend(axb, *P['leg_b'])

    ax2 = axb.twinx()
    ax2.set_position(axb.get_position())
    for s in ['top', 'left', 'bottom']:
        ax2.spines[s].set_visible(False)
    ax2.spines['right'].set_color(AXC)
    ax2.spines['right'].set_linewidth(0.8)
    ax2.tick_params(direction='in', length=3, width=0.7, colors=AXC, labelsize=7.5, pad=2.5)
    ax2.yaxis.set_major_formatter(fmt)
    if P['ylim_deg'] is None:
        lo, hi = P['ylim_b']
        ax2.set_ylim(np.degrees(lo), np.degrees(hi))
    else:
        ax2.set_ylim(*P['ylim_deg'])
    ax2.set_yticks(P['yt_deg'])
    ax2.set_ylabel('Rot. Error (deg)', fontsize=10, labelpad=3)

    fig.text(11 / W, 1 - P['letter_y'] / H, letter, fontsize=14, va='baseline', ha='left', color='black')

fig.savefig('out.png', dpi=100)
